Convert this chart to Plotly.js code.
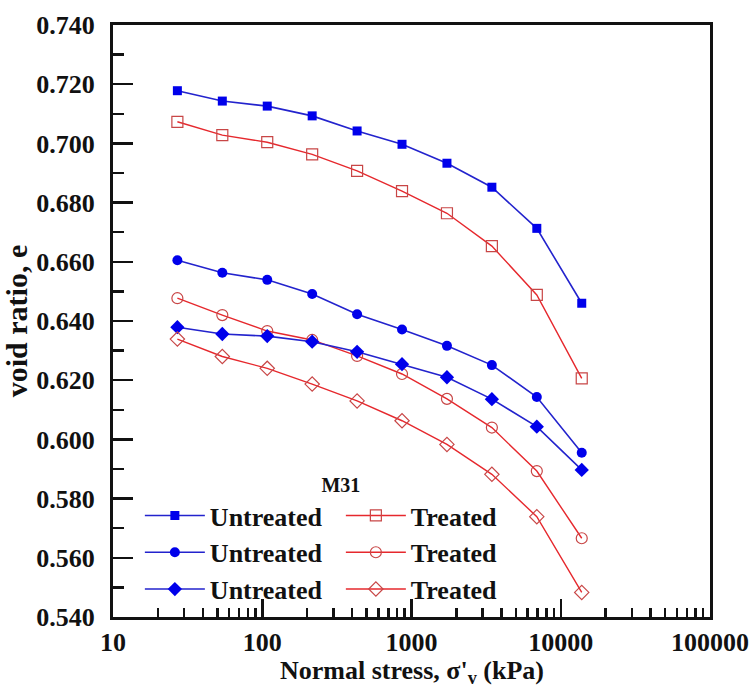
<!DOCTYPE html>
<html>
<head>
<meta charset="utf-8">
<script src="https://cdn.plot.ly/plotly-3.0.1.min.js"></script>
<style>html,body{margin:0;padding:0;background:#fff;}#chart{width:755px;height:688px;}</style>
</head>
<body>
<div id="chart"></div>
<script>
// Normal stress (kPa)
const stress = [27, 54, 108, 216, 432, 864, 1728, 3456, 6912, 13824];
// Void ratio series
const untreatedSquare  = [0.7178, 0.7143, 0.7126, 0.7093, 0.7042, 0.6997, 0.6933, 0.6852, 0.6713, 0.6460];
const treatedSquare    = [0.7073, 0.7028, 0.7004, 0.6963, 0.6907, 0.6839, 0.6764, 0.6653, 0.6488, 0.6206];
const untreatedCircle  = [0.6605, 0.6563, 0.6539, 0.6491, 0.6423, 0.6371, 0.6316, 0.6251, 0.6143, 0.5955];
const treatedCircle    = [0.6477, 0.6420, 0.6366, 0.6336, 0.6282, 0.6221, 0.6137, 0.6040, 0.5893, 0.5666];
const untreatedDiamond = [0.6379, 0.6356, 0.6349, 0.6330, 0.6296, 0.6254, 0.6210, 0.6136, 0.6043, 0.5897];
const treatedDiamond   = [0.6339, 0.6280, 0.6240, 0.6187, 0.6130, 0.6063, 0.5983, 0.5882, 0.5739, 0.5483];
const legendTitle = 'M31';
const nameU = 'Untreated';
const nameT = 'Treated';
const xTitle = "Normal stress, σ'<sub>v</sub> (kPa)";
const yTitle = 'void ratio, e';

const FONT = 'Liberation Serif, Times New Roman, serif';
const BLUE_LINE = 'rgb(35,35,205)';
const BLUE_MK = 'rgb(0,0,235)';
const RED_LINE = 'rgb(230,40,45)';
const RED_MK = 'rgb(200,70,70)';

function blue(y, sym, size) {
  return {x: stress, y: y, name: nameU, type: 'scatter', mode: 'lines+markers',
    line: {color: BLUE_LINE, width: 1.6},
    marker: {symbol: sym, size: size, color: BLUE_MK, line: {width: 0}}};
}
function red(y, sym, size) {
  return {x: stress, y: y, name: nameT, type: 'scatter', mode: 'lines+markers',
    line: {color: RED_LINE, width: 1.4},
    marker: {symbol: sym, size: size, color: RED_MK, line: {width: 1.2, color: RED_MK}}};
}
const data = [
  blue(untreatedSquare, 'square', 9),
  red(treatedSquare, 'square-open', 11),
  blue(untreatedCircle, 'circle', 10),
  red(treatedCircle, 'circle-open', 11),
  blue(untreatedDiamond, 'diamond', 11),
  red(treatedDiamond, 'diamond-open', 11)
];

const tickFont = {family: FONT, size: 26, color: '#111', weight: 'bold'};
const layout = {
  width: 755, height: 688,
  margin: {l: 113, r: 45, t: 25, b: 71},
  paper_bgcolor: '#fff', plot_bgcolor: '#fff',
  showlegend: true,
  xaxis: {
    type: 'log', range: [1, 5], dtick: 1, tickformat: 'd',
    showgrid: false, zeroline: false,
    showline: true, linecolor: '#111', linewidth: 3, mirror: true,
    ticks: 'inside', ticklen: 18, tickwidth: 2.5, tickcolor: '#111',
    minor: {dtick: 'D1', ticks: 'inside', ticklen: 9, tickwidth: 2.5, tickcolor: '#111', showgrid: false},
    tickfont: tickFont, ticklabelstandoff: 0
  },
  yaxis: {
    range: [0.54, 0.74], dtick: 0.02, tickformat: '.3f',
    showgrid: false, zeroline: false,
    showline: true, linecolor: '#111', linewidth: 3, mirror: true,
    ticks: 'inside', ticklen: 20, tickwidth: 2.5, tickcolor: '#111',
    minor: {dtick: 0.01, ticks: 'inside', ticklen: 11, tickwidth: 2.5, tickcolor: '#111', showgrid: false},
    tickfont: tickFont, ticklabelstandoff: 10,
    title: {text: yTitle, font: {family: FONT, size: 30, color: '#111', weight: 'bold'}, standoff: 0}
  },
  annotations: [{
    text: xTitle, xref: 'paper', yref: 'paper', x: 0.5, y: -0.093, xanchor: 'center', yanchor: 'middle',
    showarrow: false, font: {family: FONT, size: 26, color: '#111', weight: 'bold'}
  }],
  legend: {
    orientation: 'h', x: 0.045, xanchor: 'left', y: 0.255, yanchor: 'top',
    bgcolor: 'rgba(0,0,0,0)', borderwidth: 0,
    entrywidth: 126, entrywidthmode: 'pixels', itemwidth: 60,
    font: {family: FONT, size: 26, color: '#111', weight: 'bold'},
    title: {text: legendTitle, side: 'top center', font: {family: FONT, size: 20, color: '#111', weight: 'bold'}}
  }
};
Plotly.newPlot('chart', data, layout, {displayModeBar: false, staticPlot: true});
</script>
</body>
</html>
